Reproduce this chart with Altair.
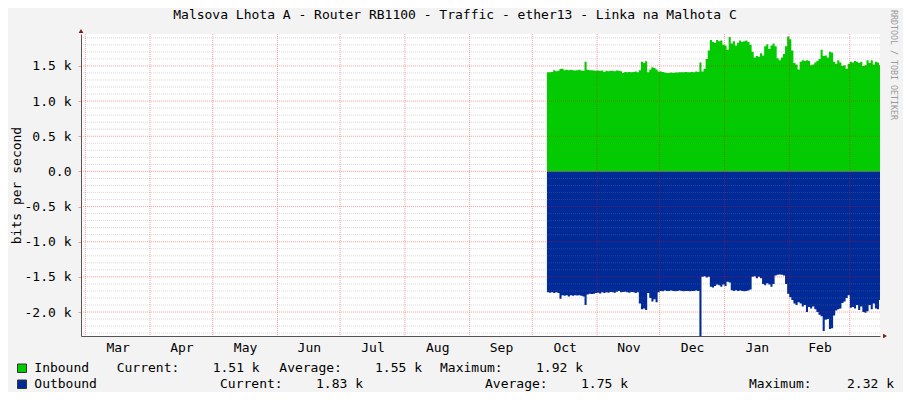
import altair as alt
import pandas as pd

TITLE = "Malsova Lhota A - Router RB1100 - Traffic - ether13 - Linka na Malhota C"
Y_TITLE = "bits per second"
WATERMARK = "RRDTOOL / TOBI OETIKER"

MONTH_STARTS = ["2011-03-01", "2011-04-01", "2011-05-01", "2011-06-01", "2011-07-01",
                "2011-08-01", "2011-09-01", "2011-10-01", "2011-11-01", "2011-12-01",
                "2012-01-01", "2012-02-01", "2012-03-01"]
X_DOMAIN = ["2011-02-26T22:30:00", "2012-03-15T11:00:00"]
Y_DOMAIN = [-2341, 1954]
Y_MAJOR = [-2000, -1500, -1000, -500, 0, 500, 1000, 1500]
Y_MINOR = [v for v in range(-2300, 2000, 100) if v % 500 != 0]

DATA_START = "2011-10-08"
# daily bits per second, Oct 8 2011 .. Mar 15 2012
INBOUND = [
    1410, 1410, 1415, 1440, 1425, 1430, 1455, 1460, 1440, 1445,
    1440, 1445, 1440, 1435, 1440, 1445, 1435, 1430, 1560, 1445,
    1440, 1440, 1435, 1430, 1435, 1430, 1435, 1415, 1430, 1425,
    1430, 1430, 1425, 1435, 1430, 1425, 1400, 1415, 1410, 1415,
    1410, 1415, 1420, 1410, 1440, 1560, 1540, 1565, 1410, 1450,
    1480, 1470, 1450, 1420, 1420, 1415, 1405, 1400, 1400, 1405,
    1400, 1405, 1405, 1410, 1410, 1410, 1415, 1410, 1410, 1415,
    1410, 1420, 1415, 1550, 1420, 1460, 1600, 1720, 1870, 1840,
    1830, 1870, 1850, 1860, 1800, 1790, 1730, 1910, 1820, 1850,
    1790, 1830, 1860, 1840, 1850, 1860, 1840, 1800, 1700, 1620,
    1640, 1630, 1680, 1650, 1780, 1810, 1740, 1790, 1820, 1780,
    1610, 1580, 1620, 1670, 1780, 1920, 1880, 1720, 1540, 1520,
    1450, 1560, 1580, 1570, 1580, 1570, 1510, 1520, 1550, 1570,
    1600, 1730, 1640, 1650, 1620, 1700, 1690, 1560, 1530, 1580,
    1550, 1500, 1510, 1460, 1530, 1560, 1550, 1570, 1560, 1540,
    1560, 1500, 1510, 1580, 1540, 1580, 1520, 1560, 1550, 1510,
]
OUTBOUND = [
    1720, 1725, 1720, 1730, 1720, 1730, 1810, 1760, 1770, 1760,
    1780, 1760, 1770, 1760, 1765, 1760, 1770, 1780, 1900, 1750,
    1740, 1745, 1740, 1730, 1725, 1735, 1720, 1730, 1720, 1725,
    1715, 1720, 1725, 1710, 1700, 1720, 1715, 1710, 1720, 1725,
    1715, 1720, 1730, 1720, 1880, 1960, 1950, 1970, 1730, 1800,
    1850, 1820, 1860, 1720, 1700, 1705, 1695, 1700, 1700, 1695,
    1700, 1705, 1700, 1695, 1700, 1705, 1700, 1700, 1705, 1700,
    1700, 1695, 1700, 2340, 1500, 1490, 1510, 1500, 1640, 1650,
    1630, 1610, 1620, 1640, 1610, 1630, 1570, 1580, 1690, 1700,
    1690, 1700, 1695, 1700, 1705, 1700, 1695, 1680, 1500, 1490,
    1520, 1500, 1520, 1600, 1620, 1590, 1610, 1640, 1600, 1480,
    1470, 1465, 1470, 1480, 1600, 1740, 1790, 1830, 1880, 1900,
    1860, 1880, 1920, 1900, 2000, 1930, 1950, 1920, 1960, 2000,
    2040, 2060, 2270, 2110, 2100, 2240, 2230, 2050, 1980, 1960,
    1950, 1870, 1850, 1800, 1760, 1940, 1930, 1950, 1900, 1970,
    1920, 2000, 2010, 1990, 1900, 1960, 1880, 1950, 1960, 1830,
]

LEGEND_NAMES = ["Inbound", "Outbound"]
LEGEND_COLORS = ["#00CC00", "#002A97"]
LEGEND_FIELDS = [
    ["Current:", "1.51 k", "Average:", "1.55 k", "Maximum:", "1.92 k"],
    ["Current:", "1.83 k", "Average:", "1.75 k", "Maximum:", "2.32 k"],
]

# ---- layout (pixels relative to plot origin) ----
W, H = 799, 302
FONT = "DejaVu Sans Mono"
LEG_X = [[35.7, 131.7, 198.3, 294, 359, 455], [139, 235, 404, 500, 668, 766]]
LEG_Y = [338, 354]


def ms(s):
    return int(pd.Timestamp(s, tz="UTC").value // 10**6)


DAY = 86400000
t0 = ms(DATA_START)
times = [t0 + i * DAY for i in range(len(INBOUND))] + [t0 + len(INBOUND) * DAY]
df = pd.DataFrame({
    "t": times,
    "inb": INBOUND + [INBOUND[-1]],
    "outb": [-v for v in OUTBOUND] + [-OUTBOUND[-1]],
    "zero": 0,
})

XS = alt.Scale(type="utc", domain=[ms(X_DOMAIN[0]), ms(X_DOMAIN[1])])
YS = alt.Scale(domain=Y_DOMAIN, nice=False, zero=False)

starts = [ms(s) for s in MONTH_STARTS]
mids = [(a + b) / 2 for a, b in zip(starts[:-1], starts[1:])]

XA = alt.Axis(values=mids, labelExpr="utcFormat(datum.value, '%b')", tickSize=0,
              ticks=False, grid=False, title=None, domainColor="#555555",
              labelFont=FONT, labelFontSize=13, labelColor="#000000",
              labelPadding=15, labelBaseline="alphabetic", labelFlush=False,
              labelOverlap=False)
YA = alt.Axis(values=Y_MAJOR,
              labelExpr="datum.value == 0 ? '0.0' : (datum.value < 0 ? '-' : '') + format(abs(datum.value)/1000, '.1f') + ' k'",
              grid=False, tickColor="#F0A0A0", tickSize=3, domainColor="#555555",
              labelFont=FONT, labelFontSize=13, labelColor="#000000", labelPadding=7,
              title=Y_TITLE, titleFont=FONT, titleFontSize=13, titleFontWeight="normal",
              titleColor="#000000", titleX=-65, titleY=151, titleAlign="center",
              titleBaseline="middle", titleAngle=270, labelFlush=False, labelOverlap=False)


def X(f):
    return alt.X(f, scale=XS, axis=XA)


def Y(f):
    return alt.Y(f, scale=YS, axis=YA)


inbound = alt.Chart(df).mark_area(interpolate="step-after", color="#00CC00", clip=True).encode(
    x=X("t:T"), y=Y("inb:Q"), y2="zero:Q")
outbound = alt.Chart(df).mark_area(interpolate="step-after", color="#002A97", clip=True).encode(
    x=X("t:T"), y=Y("outb:Q"), y2="zero:Q")

minor = alt.Chart(pd.DataFrame({"inb": Y_MINOR})).mark_rule(
    color="#808080", opacity=0.3, strokeDash=[1, 1], strokeWidth=1).encode(y=Y("inb:Q"))
major = alt.Chart(pd.DataFrame({"inb": Y_MAJOR})).mark_rule(
    color="#FF0000", opacity=0.38, strokeDash=[1, 1], strokeWidth=1).encode(y=Y("inb:Q"))
vgrid = alt.Chart(pd.DataFrame({"t": starts})).mark_rule(
    color="#FF0000", opacity=0.38, strokeDash=[1, 1], strokeWidth=1).encode(x=X("t:T"))

arrow_y = alt.Chart(pd.DataFrame({"t": [ms(X_DOMAIN[0])], "inb": [Y_DOMAIN[1]]})).mark_point(
    shape="triangle-up", filled=True, size=22, color="#7A1A1A", opacity=1, yOffset=-3).encode(
    x=X("t:T"), y=Y("inb:Q"))
arrow_x = alt.Chart(pd.DataFrame({"t": [ms(X_DOMAIN[1])], "inb": [Y_DOMAIN[0]]})).mark_point(
    shape="triangle-right", filled=True, size=22, color="#7A1A1A", opacity=1, xOffset=5).encode(
    x=X("t:T"), y=Y("inb:Q"))

base = alt.Chart(pd.DataFrame({"a": [0]}))


def txt(s, x, y, align="left", size=13, color="#000000", angle=0, baseline="alphabetic"):
    return base.mark_text(text=s, font=FONT, fontSize=size, color=color, align=align,
                          baseline=baseline, angle=angle).encode(
        x=alt.value(x), y=alt.value(y))


layers = [inbound, outbound, minor, major, vgrid, arrow_y, arrow_x]
layers.append(txt(TITLE, 374, -15.3, align="center"))
layers.append(txt(WATERMARK, 812, -24, size=8.3, color="#9A9A9A", angle=90,
                  baseline="middle"))
for i, name in enumerate(LEGEND_NAMES):
    layers.append(base.mark_rect(fill=LEGEND_COLORS[i], stroke="#333333", strokeWidth=1).encode(
        x=alt.value(-63.5), x2=alt.value(-54.5), y=alt.value(LEG_Y[i] - 8),
        y2=alt.value(LEG_Y[i] + 0.5)))
    layers.append(txt(name, -46.7, LEG_Y[i]))
    for s, x in zip(LEGEND_FIELDS[i], LEG_X[i]):
        layers.append(txt(s, x, LEG_Y[i]))

chart = alt.layer(*layers).properties(
    width=W, height=H,
    padding={"left": 73, "top": 26, "right": 23, "bottom": 56},
    autosize=alt.AutoSizeParams(type="none"),
    background="#F3F3F3",
).configure_view(fill="white", stroke=None)

chart.save("out.html", embed_options={"renderer": "svg", "actions": False})
